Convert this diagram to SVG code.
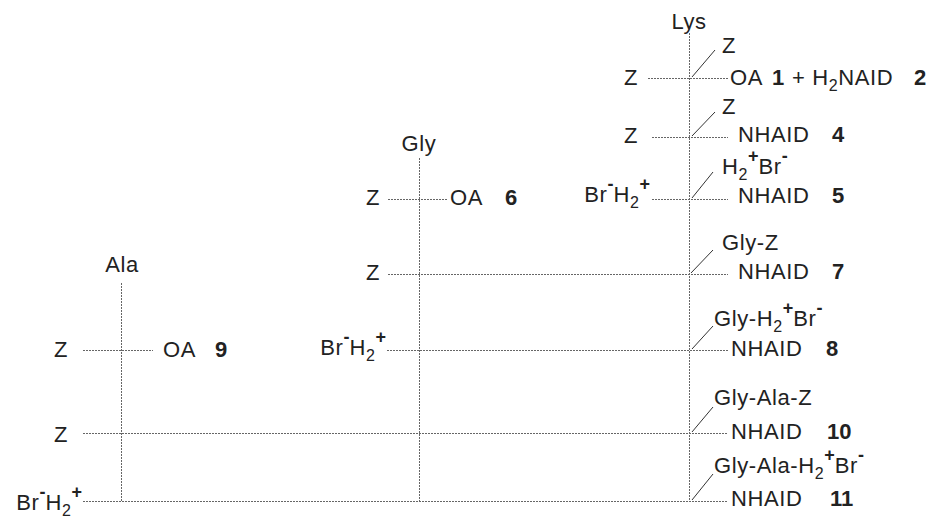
<svg xmlns="http://www.w3.org/2000/svg" width="931" height="518" viewBox="0 0 931 518">
  <style>
    text { font-family: "Liberation Sans", Arial, sans-serif; font-size: 22px; letter-spacing: 0.6px; fill: #222; }
    .num { font-weight: bold; letter-spacing: 0; }
    .sup { font-size: 18px; font-weight: bold; letter-spacing: 0; }
    .sub { font-size: 16px; }
    .mid { text-anchor: middle; }
    .end { text-anchor: end; }
    .bond { stroke: #666; stroke-width: 1; stroke-dasharray: 2 1; fill: none; }
    .tick { stroke: #333; stroke-width: 1; fill: none; }
  </style>
  <rect width="931" height="518" fill="#fff"/>

  <!-- backbone chains and side bonds -->
  <g id="connectors">
    <line class="bond" x1="689.5" y1="33" x2="689.5" y2="501"/>
    <line class="bond" x1="419.5" y1="158" x2="419.5" y2="501"/>
    <line class="bond" x1="121.5" y1="283" x2="121.5" y2="501"/>

    <line class="bond" x1="648" y1="78.5" x2="728" y2="78.5"/>
    <line class="bond" x1="652" y1="137.5" x2="728" y2="137.5"/>
    <line class="bond" x1="652" y1="199.5" x2="728" y2="199.5"/>
    <line class="bond" x1="388" y1="199.5" x2="448" y2="199.5"/>
    <line class="bond" x1="388" y1="274.5" x2="728" y2="274.5"/>
    <line class="bond" x1="387" y1="350.5" x2="728" y2="350.5"/>
    <line class="bond" x1="83" y1="350.5" x2="153" y2="350.5"/>
    <line class="bond" x1="83" y1="433.5" x2="728" y2="433.5"/>
    <line class="bond" x1="83" y1="501.5" x2="728" y2="501.5"/>

    <line class="tick" x1="692" y1="77" x2="715" y2="50"/>
    <line class="tick" x1="692" y1="136" x2="715" y2="112"/>
    <line class="tick" x1="692" y1="198" x2="713" y2="172"/>
    <line class="tick" x1="691" y1="273" x2="713" y2="250"/>
    <line class="tick" x1="692" y1="349" x2="713" y2="326"/>
    <line class="tick" x1="692" y1="432" x2="713" y2="407"/>
    <line class="tick" x1="692" y1="500" x2="713" y2="474"/>
  </g>

  <!-- residue headers -->
  <g id="lys"><text class="mid" x="689" y="29">Lys</text></g>
  <g id="gly"><text class="mid" x="419" y="151">Gly</text></g>
  <g id="ala"><text class="mid" x="122" y="272">Ala</text></g>

  <!-- compounds 1 and 2 -->
  <g id="row-1">
    <text x="624" y="85">Z</text>
    <text x="722" y="53">Z</text>
    <text x="730" y="85">OA</text>
    <text class="num" x="772" y="85">1</text>
    <text x="792" y="85">+ H<tspan class="sub" dy="6">2</tspan><tspan dy="-6">NAID</tspan></text>
    <text class="num" x="914" y="85">2</text>
  </g>

  <!-- compound 4 -->
  <g id="row-4">
    <text x="624" y="143">Z</text>
    <text x="722" y="114">Z</text>
    <text x="738" y="142">NHAID</text>
    <text class="num" x="832" y="142">4</text>
  </g>

  <!-- compound 5 -->
  <g id="row-5">
    <text class="end" x="650" y="202">Br<tspan class="sup" dy="-12">-</tspan><tspan dy="12">H</tspan><tspan class="sub" dy="6">2</tspan><tspan class="sup" dy="-18">+</tspan></text>
    <text x="722" y="174">H<tspan class="sub" dy="6">2</tspan><tspan class="sup" dy="-18">+</tspan><tspan dy="12">Br</tspan><tspan class="sup" dy="-12">-</tspan></text>
    <text x="738" y="203">NHAID</text>
    <text class="num" x="832" y="203">5</text>
  </g>

  <!-- compound 6 -->
  <g id="row-6">
    <text x="366" y="205">Z</text>
    <text x="450" y="205">OA</text>
    <text class="num" x="505" y="205">6</text>
  </g>

  <!-- compound 7 -->
  <g id="row-7">
    <text x="366" y="280">Z</text>
    <text x="722" y="250">Gly-Z</text>
    <text x="738" y="279">NHAID</text>
    <text class="num" x="832" y="279">7</text>
  </g>

  <!-- compound 8 -->
  <g id="row-8">
    <text class="end" x="386" y="355">Br<tspan class="sup" dy="-12">-</tspan><tspan dy="12">H</tspan><tspan class="sub" dy="6">2</tspan><tspan class="sup" dy="-18">+</tspan></text>
    <text x="714" y="326">Gly-H<tspan class="sub" dy="6">2</tspan><tspan class="sup" dy="-18">+</tspan><tspan dy="12">Br</tspan><tspan class="sup" dy="-12">-</tspan></text>
    <text x="731" y="356">NHAID</text>
    <text class="num" x="826" y="356">8</text>
  </g>

  <!-- compound 9 -->
  <g id="row-9">
    <text x="54" y="357">Z</text>
    <text x="163" y="357">OA</text>
    <text class="num" x="215" y="357">9</text>
  </g>

  <!-- compound 10 -->
  <g id="row-10">
    <text x="54" y="442">Z</text>
    <text x="714" y="405">Gly-Ala-Z</text>
    <text x="731" y="439">NHAID</text>
    <text class="num" x="827" y="439">10</text>
  </g>

  <!-- compound 11 -->
  <g id="row-11">
    <text class="end" x="82" y="510">Br<tspan class="sup" dy="-12">-</tspan><tspan dy="12">H</tspan><tspan class="sub" dy="6">2</tspan><tspan class="sup" dy="-18">+</tspan></text>
    <text x="714" y="473">Gly-Ala-H<tspan class="sub" dy="6">2</tspan><tspan class="sup" dy="-18">+</tspan><tspan dy="12">Br</tspan><tspan class="sup" dy="-12">-</tspan></text>
    <text x="731" y="506">NHAID</text>
    <text class="num" x="830" y="506">11</text>
  </g>
</svg>
